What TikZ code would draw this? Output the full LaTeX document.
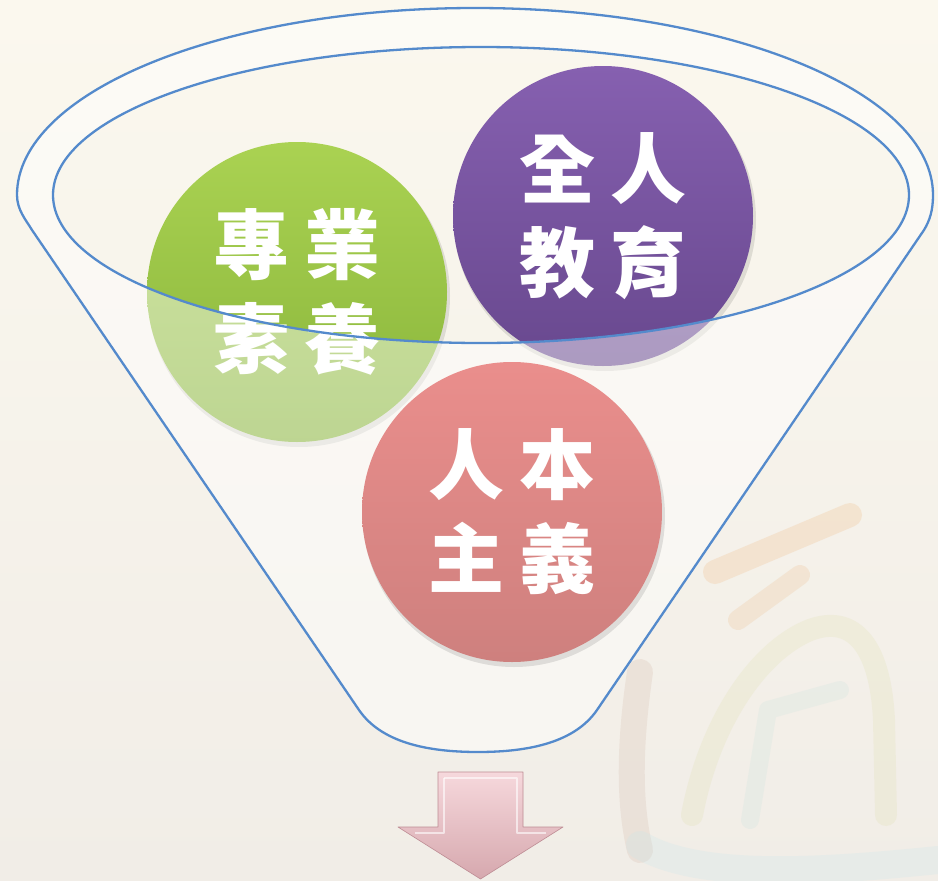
\documentclass[tikz,border=0pt]{standalone}
\usepackage{fontspec}
\newfontfamily\cjk{Noto Sans CJK TC}
\usetikzlibrary{calc}
\definecolor{bgtop}{RGB}{251,248,238}
\definecolor{bgbot}{RGB}{241,237,231}
\definecolor{funnelblue}{RGB}{84,138,204}
\definecolor{greentop}{RGB}{170,210,82}
\definecolor{greenbot}{RGB}{136,180,58}
\definecolor{purptop}{RGB}{134,96,176}
\definecolor{purpbot}{RGB}{104,72,142}
\definecolor{pinktop}{RGB}{234,142,140}
\definecolor{pinkbot}{RGB}{206,128,126}
\definecolor{arrowtop}{RGB}{246,216,220}
\definecolor{arrowbot}{RGB}{214,168,174}
\definecolor{arrowedge}{RGB}{190,140,148}
\tikzset{
  ball/.style={circle, minimum size=300pt, inner sep=0pt, text=white,
     font=\cjk\bfseries\fontsize{76}{94}\selectfont, align=center},
  ballshadow/.style={fill=black, opacity=0.10},
  funnelline/.style={draw=funnelblue, line width=2.3pt, line join=round},
  brush/.style={line cap=round, line join=round, opacity=0.22}
}
\begin{document}
\begin{tikzpicture}[x=1pt,y=-1pt]
\useasboundingbox (0,0) rectangle (938,881);
% background
\shade[top color=bgtop, bottom color=bgbot] (0,0) rectangle (938,881);
% faint calligraphy in the background
\draw[brush, draw={rgb,255:red,210;green,180;blue,164}, line width=26pt] (640,672) .. controls (630,740) and (628,800) .. (640,850);
\draw[brush, draw={rgb,255:red,240;green,180;blue,120}, line width=24pt] (715,572) -- (850,515);
\draw[brush, draw={rgb,255:red,236;green,186;blue,136}, line width=20pt] (738,620) -- (800,575);
\draw[brush, draw={rgb,255:red,222;green,222;blue,170}, line width=22pt] (692,815) .. controls (710,720) and (760,650) .. (810,630) .. controls (850,615) and (880,640) .. (884,720) -- (886,815);
\draw[brush, draw={rgb,255:red,200;green,226;blue,222}, line width=18pt] (750,820) -- (768,710) -- (840,690);
\draw[brush, draw={rgb,255:red,196;green,230;blue,236}, line width=28pt] (640,845) .. controls (700,880) and (820,872) .. (938,860);
% shadows
\fill[ballshadow] (299,296) circle (151);
\fill[ballshadow] (605,220) circle (151);
% green and purple circles
\node[ball, shading=axis, top color=greentop, bottom color=greenbot] (green) at (297,292) {專\kern15pt業\\素\kern15pt養};
\node[ball, shading=axis, top color=purptop, bottom color=purpbot] (purple) at (603,216) {全\kern15pt人\\教\kern15pt育};
% funnel body (semi-transparent), with the inner ellipse as a hole
\path[fill=white, fill opacity=0.45, even odd rule]
  (17,195) arc[start angle=180, end angle=360, x radius=458, y radius=187]
  .. controls (933,210) and (930,220) .. (924,230) -- (597,710)
  .. controls (575,742) and (530,752) .. (478,752)
  .. controls (426,752) and (381,742) .. (359,710) -- (32,230)
  .. controls (26,220) and (17,210) .. (17,195) -- cycle
  (481,195) ellipse[x radius=428, y radius=148];
% pink circle
\fill[ballshadow] (514,516) circle (151);
\node[ball, shading=axis, top color=pinktop, bottom color=pinkbot] (pink) at (512,512) {人\kern15pt本\\主\kern15pt義};
% funnel outlines
\path[funnelline]
  (17,195) arc[start angle=180, end angle=360, x radius=458, y radius=187]
  .. controls (933,210) and (930,220) .. (924,230) -- (597,710)
  .. controls (575,742) and (530,752) .. (478,752)
  .. controls (426,752) and (381,742) .. (359,710) -- (32,230)
  .. controls (26,220) and (17,210) .. (17,195);
\draw[funnelline] (481,195) ellipse[x radius=428, y radius=148];
% down arrow
\shade[top color=arrowtop, bottom color=arrowbot, draw=arrowedge, line width=0.6pt, line join=round]
  (438,772) -- (523,772) -- (523,827) -- (563,827) -- (480.5,879) -- (398,827) -- (438,827) -- cycle;
\draw[white, opacity=0.6, line width=1.2pt, line join=round]
  (444,778) -- (517,778) -- (517,833) -- (546,833);
\draw[white, opacity=0.6, line width=1.2pt, line join=round]
  (444,778) -- (444,833) -- (415,833);
\end{tikzpicture}
\end{document}
